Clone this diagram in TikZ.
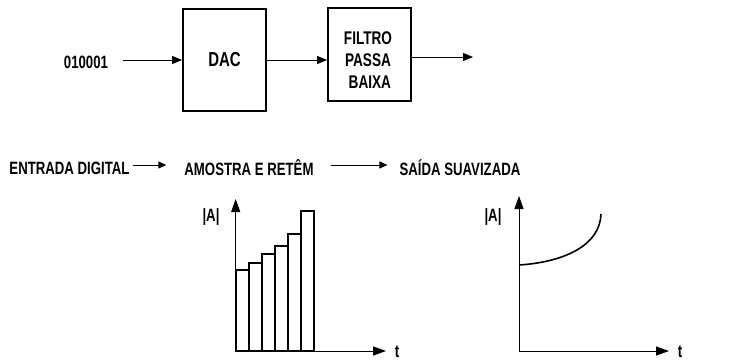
\documentclass[tikz,border=0pt]{standalone}
\usepackage{fontspec}
\setmainfont{Liberation Sans}
\usetikzlibrary{arrows.meta}
\newcommand{\tl}[1]{\scalebox{1}[1.35]{#1}}
\tikzset{
  lbl/.style={inner sep=0pt, font=\fontsize{13.2}{15}\selectfont\bfseries},
  blk/.style={draw, line width=1.8pt, minimum width=83pt, minimum height=#1, inner sep=0pt},
  arr/.style={line width=1pt, -{Triangle[length=10pt,width=8pt]}},
  axarr/.style={line width=1pt, -{Triangle[length=13pt,width=9pt]}},
  bar/.style={draw, line width=1.8pt}
}
\begin{document}
\begin{tikzpicture}[x=1pt,y=-1pt]
\useasboundingbox (0,0) rectangle (731,360);
% top row
\node[lbl] (in) at (86,62) {\tl{010001}};
\node[blk=102pt] (dac) at (224.5,60) {\fontsize{15}{17}\selectfont\bfseries\tl{DAC}};
\node[blk=93pt] (filt) at (369.5,54.5) {};
\node[lbl, align=center, font=\fontsize{13.6}{15}\selectfont\bfseries] (ft) at (368,60) {\tl{FILTRO}\\[7pt]\tl{PASSA}\\[7pt]\tl{\ BAIXA}};
\coordinate (out) at (473,57);
\draw[arr] ([xshift=15pt]in.east |- dac.west) -- (dac.west);
\draw[arr] (dac.east) -- (dac.east -| filt.west);
\draw[arr] (filt.east |- out) -- (out);
% second row
\node[lbl] (e1) at (69.5,168) {\tl{ENTRADA DIGITAL}};
\node[lbl] (e2) at (249,168) {\tl{AMOSTRA E RETÊM}};
\node[lbl] (e3) at (460,168) {\tl{SAÍDA SUAVIZADA}};
\draw[line width=1pt, -{Triangle[length=8pt,width=7pt]}] ([xshift=3pt,yshift=3pt]e1.east) -- ([xshift=-18pt,yshift=3pt]e2.west);
\draw[line width=1pt, -{Triangle[length=8pt,width=7pt]}] ([xshift=17pt,yshift=3pt]e2.east) -- ([xshift=-12pt,yshift=3pt]e3.west);
% plot 1
\coordinate (o1) at (235.7,351);
\coordinate (y1) at (235.7,199);
\coordinate (x1) at (386,351);
\foreach \i/\h in {0/270,1/262.7,2/254.3,3/245.7,4/234.3,5/210.7}{
  \draw[bar] (235.7+13.1*\i,351) rectangle (248.8+13.1*\i,\h);
}
\draw[axarr] (o1) -- (y1);
\draw[axarr] (o1) -- (x1);
\node[lbl] (a1) at (211,217) {\tl{|A|}};
\node[lbl] (t1) at (397,351.5) {\tl{t}};
% plot 2
\coordinate (o2) at (519,351);
\coordinate (y2) at (519,196);
\coordinate (x2) at (669,351);
\draw[axarr] (o2) -- (y2);
\draw[axarr] (o2) -- (x2);
\node[lbl] (a2) at (493,217) {\tl{|A|}};
\node[lbl] (t2) at (680,351.5) {\tl{t}};
\draw[line width=1.6pt] (519,265) .. controls (565,262) and (600,245) .. (601,214);
\end{tikzpicture}
\end{document}
